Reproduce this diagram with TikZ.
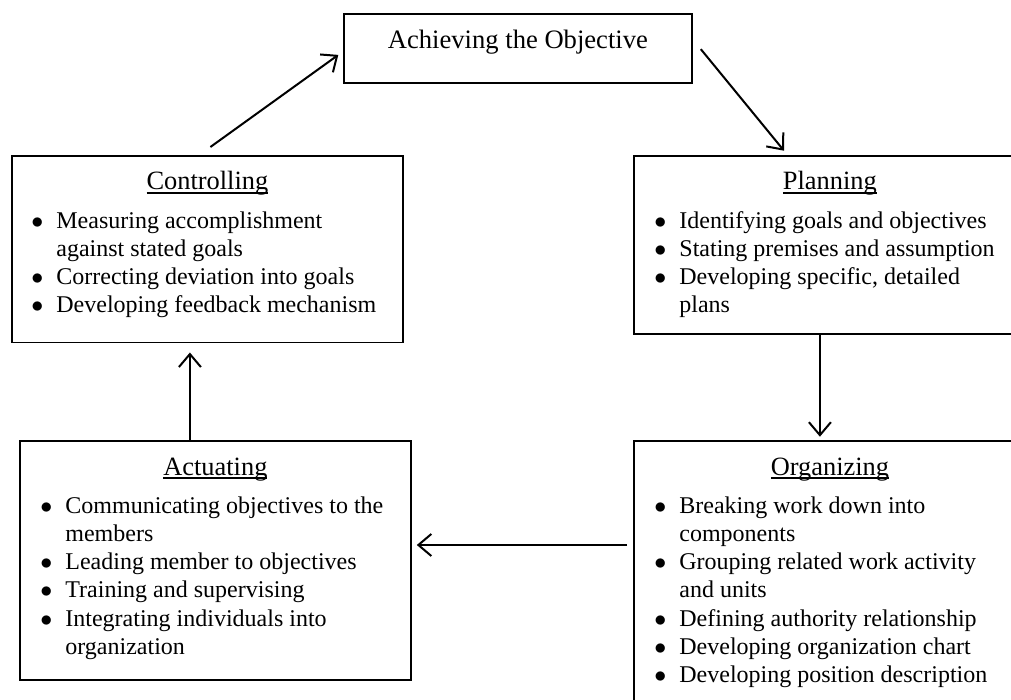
\documentclass[tikz,border=0pt]{standalone}
\usepackage{fontspec}
\setmainfont{Liberation Serif}
\usetikzlibrary{arrows.meta}
\newcommand\ulx[1]{\setbox0\hbox{#1}\rlap{\rule[-1.9pt]{\wd0}{0.75pt}}\box0}
\newcommand\bi[1]{\hbox{\llap{$\bullet$\hskip 6.5pt}#1}}
\newcommand\ci[1]{\hbox{#1}}
\newcommand\blist[1]{\vtop{\baselineskip=14.15pt\lineskiplimit=-20pt #1}}
\begin{document}
\begin{tikzpicture}[x=0.5pt,y=-0.5pt,
  boxst/.style={draw, line width=0.9pt, inner sep=0pt, anchor=north west},
  titlest/.style={anchor=base, inner sep=0pt, font=\fontsize{13.2}{15}\selectfont},
  bodyst/.style={anchor=base west, inner sep=0pt, font=\fontsize{12}{14.15}\selectfont},
  arr/.style={line width=1pt, -{Straight Barb[length=6.5pt,width=11pt]}}]
\useasboundingbox (0,0) rectangle (1011,700);
\clip (0,0) rectangle (1011,700);

% boxes
\node[boxst, minimum width=174pt, minimum height=34.75pt] (top) at (343,13) {};
\node[boxst, minimum width=195.5pt, minimum height=93.25pt] (ctrl) at (11,155) {};
\node[boxst, minimum width=196pt, minimum height=89pt] (plan) at (633,155) {};
\node[boxst, minimum width=195.5pt, minimum height=119.5pt] (act) at (19,440) {};
\node[boxst, minimum width=196pt, minimum height=140pt] (org) at (633,440) {};

% texts
\node[anchor=base, inner sep=0pt, font=\fontsize{13.3}{15}\selectfont] (toptxt) at ([yshift=-18pt]top.north) {Achieving the Objective};

\node[titlest] (ctrlt) at ([yshift=-17.5pt]ctrl.north) {\ulx{Controlling}};
\node[titlest] (plant) at ([yshift=-17.5pt]plan.north) {\ulx{Planning}};
\node[titlest] (actt) at ([yshift=-17.5pt]act.north) {\ulx{Actuating}};
\node[titlest] (orgt) at ([yshift=-17.5pt]org.north) {\ulx{Organizing}};

\node[bodyst] (ctrlb) at ([xshift=22.5pt,yshift=-36.5pt]ctrl.north west) {\blist{%
  \bi{Measuring accomplishment}
  \ci{against stated goals}
  \bi{Correcting deviation into goals}
  \bi{Developing feedback mechanism}}};
\node[bodyst] (planb) at ([xshift=23pt,yshift=-36.5pt]plan.north west) {\blist{%
  \bi{Identifying goals and objectives}
  \bi{Stating premises and assumption}
  \bi{Developing specific, detailed}
  \ci{plans}}};
\node[bodyst] (actb) at ([xshift=23pt,yshift=-36.5pt]act.north west) {\blist{%
  \bi{Communicating objectives to the}
  \ci{members}
  \bi{Leading member to objectives}
  \bi{Training and supervising}
  \bi{Integrating individuals into}
  \ci{organization}}};
\node[bodyst] (orgb) at ([xshift=23pt,yshift=-36.5pt]org.north west) {\blist{%
  \bi{Breaking work down into}
  \ci{components}
  \bi{Grouping related work activity}
  \ci{and units}
  \bi{Defining authority relationship}
  \bi{Developing organization chart}
  \bi{Developing position description}}};

% connectors
\draw[arr] ([shift={(3,-8)}]ctrl.north) -- ([shift={(-4.7,6.25)}]top.west);
\draw[arr] ([shift={(8,0.5)}]top.east) -- ([shift={(151,-4.3)}]plan.north west);
\draw[arr] ([shift={(-10,0)}]plan.south) -- ([shift={(-10,-3.3)}]org.north);
\draw[arr] ([shift={(-6,105)}]org.north west) -- ([shift={(5,105)}]act.north east);
\draw[arr] ([shift={(-25.5,0)}]act.north) -- ([shift={(-17.5,9.2)}]ctrl.south);
\end{tikzpicture}
\end{document}
